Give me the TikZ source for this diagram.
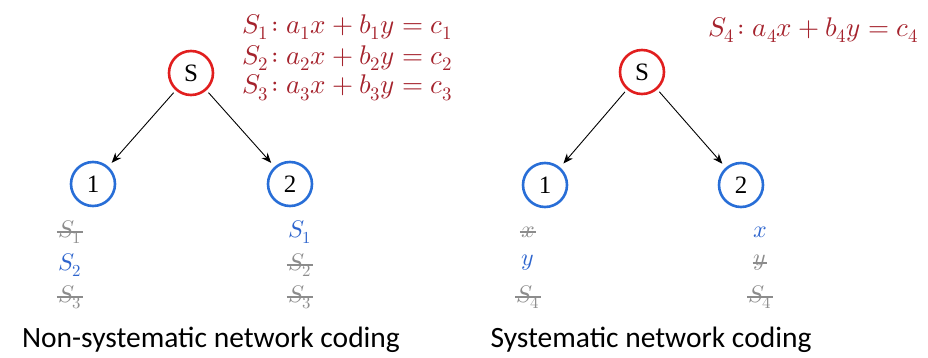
\documentclass[tikz,border=0pt]{standalone}
\usepackage{fontspec}
\usepackage{unicode-math}
\setmainfont{Liberation Serif}
\setmathfont{Latin Modern Math}
\newfontfamily\capfont{Carlito}
\usetikzlibrary{arrows.meta}
\definecolor{eqred}{RGB}{165,35,45}
\definecolor{nodered}{RGB}{225,30,30}
\definecolor{nodeblue}{RGB}{40,110,215}
\definecolor{txtblue}{RGB}{45,100,205}
\definecolor{strikegray}{RGB}{140,140,140}
\begin{document}
\begin{tikzpicture}[x=1pt,y=-1pt,
  basenode/.style={circle,line width=2.6pt,fill=white,minimum size=44pt,inner sep=0pt,font=\fontsize{25}{25}\selectfont},
  srcnode/.style={basenode,draw=nodered},
  rcvnode/.style={basenode,draw=nodeblue},
  link/.style={-{Stealth[length=10pt,width=8pt]},line width=0.9pt,shorten <=3pt,shorten >=5pt},
  eq/.style={text=eqred,font=\fontsize{27}{30}\selectfont,anchor=west,inner sep=0pt},
  got/.style={text=txtblue,font=\fontsize{24}{24}\selectfont,inner sep=0pt},
  lost/.style={text=strikegray,font=\fontsize{24}{24}\selectfont,inner sep=0pt},
  strike/.style={draw=strikegray,line width=1.1pt},
  capt/.style={font=\capfont\fontsize{29.5}{30}\selectfont,inner sep=0pt}
]
\useasboundingbox (0,0) rectangle (928,358);
% left diagram
\node[srcnode] (ls) at (191,73) {S};
\node[rcvnode] (l1) at (93,184) {1};
\node[rcvnode] (l2) at (290,184) {2};
\draw[link] (ls) -- (l1);
\draw[link] (ls) -- (l2);
\node[eq] (e1) at (242,27) {$S_1\!: a_1x+b_1y=c_1$};
\node[eq] (e2) at (242,58) {$S_2\!: a_2x+b_2y=c_2$};
\node[eq] (e3) at (242,88) {$S_3\!: a_3x+b_3y=c_3$};
\node[lost] (la1) at (70,232) {$S_1$};
\node[got]  (la2) at (70,265) {$S_2$};
\node[lost] (la3) at (70,297) {$S_3$};
\node[got]  (lb1) at (300,232) {$S_1$};
\node[lost] (lb2) at (300,265) {$S_2$};
\node[lost] (lb3) at (300,297) {$S_3$};
\foreach \n in {la1,la3,lb2,lb3}{\draw[strike] ([xshift=-1pt]\n.west) -- ([xshift=1pt]\n.east);}
\node[capt] (lc) at (211,340) {Non-systematic network coding};
% right diagram
\node[srcnode] (rs) at (642,72) {S};
\node[rcvnode] (r1) at (545,185) {1};
\node[rcvnode] (r2) at (741,185) {2};
\draw[link] (rs) -- (r1);
\draw[link] (rs) -- (r2);
\node[eq] (e4) at (708,30) {$S_4\!: a_4x+b_4y=c_4$};
\node[lost] (ra1) at (528,232) {$x$};
\node[got]  (ra2) at (528,263) {$y$};
\node[lost] (ra3) at (528,297) {$S_4$};
\node[got]  (rb1) at (760,232) {$x$};
\node[lost] (rb2) at (760,263) {$y$};
\node[lost] (rb3) at (760,297) {$S_4$};
\foreach \n in {ra1,ra3,rb2,rb3}{\draw[strike] ([xshift=-1pt]\n.west) -- ([xshift=1pt]\n.east);}
\node[capt] (rc) at (651,340) {Systematic network coding};
\end{tikzpicture}
\end{document}
